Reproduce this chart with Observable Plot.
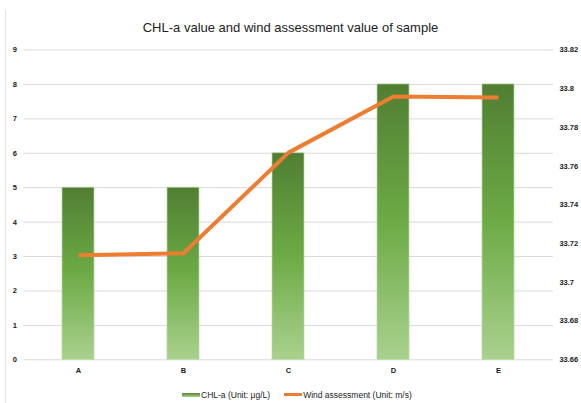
<!DOCTYPE html>
<html>
<head>
<meta charset="utf-8">
<script src="https://cdn.jsdelivr.net/npm/d3@7"></script>
<script src="https://cdn.jsdelivr.net/npm/@observablehq/plot@0.6"></script>
<style>
  html, body { margin: 0; padding: 0; background: #fff; }
  #wrap { position: relative; width: 581px; height: 403px; overflow: hidden; font-family: "Liberation Sans", Arial, sans-serif; }
  #title { height: 40px; box-sizing: border-box; padding-top: 20px; line-height: 16px; text-align: center; font-size: 13px; color: #222; }
  #legend { height: 25px; box-sizing: border-box; padding-top: 8px; padding-left: 182px; line-height: 12px; font-size: 8.5px; color: #222; display: flex; align-items: center; }
  .sw { display: inline-block; width: 18px; margin-right: 1px; }
  #border { position: absolute; left: 5px; top: 10px; width: 1px; height: 400px; background: #e3e3e3; }
  svg { display: block; }
</style>
</head>
<body>
<div id="wrap">
  <div id="border"></div>
  <div id="title">CHL-a value and wind assessment value of sample</div>
  <div id="chart"></div>
  <div id="legend">
    <span class="sw" style="height:4px;background:linear-gradient(#548235,#a9d18e);"></span><span style="margin-right:14px;">CHL-a (Unit: μg/L)</span>
    <span class="sw" style="height:3px;background:#ED7D31;"></span><span>Wind assessment (Unit: m/s)</span>
  </div>
</div>
<script>
const samples = ["A", "B", "C", "D", "E"];
const chlValues = [5, 5, 6, 8, 8];
const windValues = [33.714, 33.715, 33.767, 33.796, 33.7955];
const leftTicks = [0, 1, 2, 3, 4, 5, 6, 7, 8, 9];
const rightTickLabels = ["33.66", "33.68", "33.7", "33.72", "33.74", "33.76", "33.78", "33.8", "33.82"];

const rightMin = +rightTickLabels[0];
const rightMax = +rightTickLabels[rightTickLabels.length - 1];
const leftMax = leftTicks[leftTicks.length - 1];
const toLeft = v => (v - rightMin) / (rightMax - rightMin) * leftMax;
const rightTickPos = rightTickLabels.map(l => toLeft(+l));

const bars = samples.map((s, i) => ({sample: s, value: chlValues[i]}));
const line = samples.map((s, i) => ({sample: s, value: toLeft(windValues[i])}));

const tickStyle = {fontSize: "7.5px", fontWeight: "bold", fill: "#1a1a1a", letterSpacing: "-0.4px"};

const chart = Plot.plot({
  width: 581,
  height: 338,
  marginTop: 9.5,
  marginBottom: 18.7,
  marginLeft: 23.4,
  marginRight: 28.1,
  style: {fontFamily: "'Liberation Sans', Arial, sans-serif", background: "transparent", color: "#222"},
  x: {domain: samples, paddingInner: 0.693, paddingOuter: 0.3465, label: null},
  y: {domain: [0, leftMax], label: null},
  marks: [
    Plot.ruleY(leftTicks, {stroke: "#d9d9d9", strokeWidth: 1}),
    Plot.barY(bars, {x: "sample", y: "value", fill: "url(#chlGrad)", stroke: "#b7d9a2", strokeWidth: 0.7}),
    Plot.lineY(line, {x: "sample", y: "value", stroke: "#ED7D31", strokeWidth: 4, strokeLinejoin: "round", strokeLinecap: "butt"}),
    Plot.axisY({anchor: "left", ticks: leftTicks, tickSize: 0, tickPadding: 7, label: null, ...tickStyle}),
    Plot.axisY({anchor: "right", ticks: rightTickPos, tickSize: 0, tickPadding: 6, label: null,
      tickFormat: (d, i) => rightTickLabels[i], ...tickStyle}),
    Plot.axisX({anchor: "bottom", tickSize: 0, tickPadding: 8, label: null, ...tickStyle})
  ]
});

const defs = d3.select(chart).insert("defs", ":first-child");
const grad = defs.append("linearGradient").attr("id", "chlGrad").attr("x1", 0).attr("y1", 0).attr("x2", 0).attr("y2", 1);
grad.append("stop").attr("offset", "0%").attr("stop-color", "#507e32");
grad.append("stop").attr("offset", "50%").attr("stop-color", "#6dab45");
grad.append("stop").attr("offset", "100%").attr("stop-color", "#a9d18e");

document.getElementById("chart").appendChild(chart);
</script>
</body>
</html>
